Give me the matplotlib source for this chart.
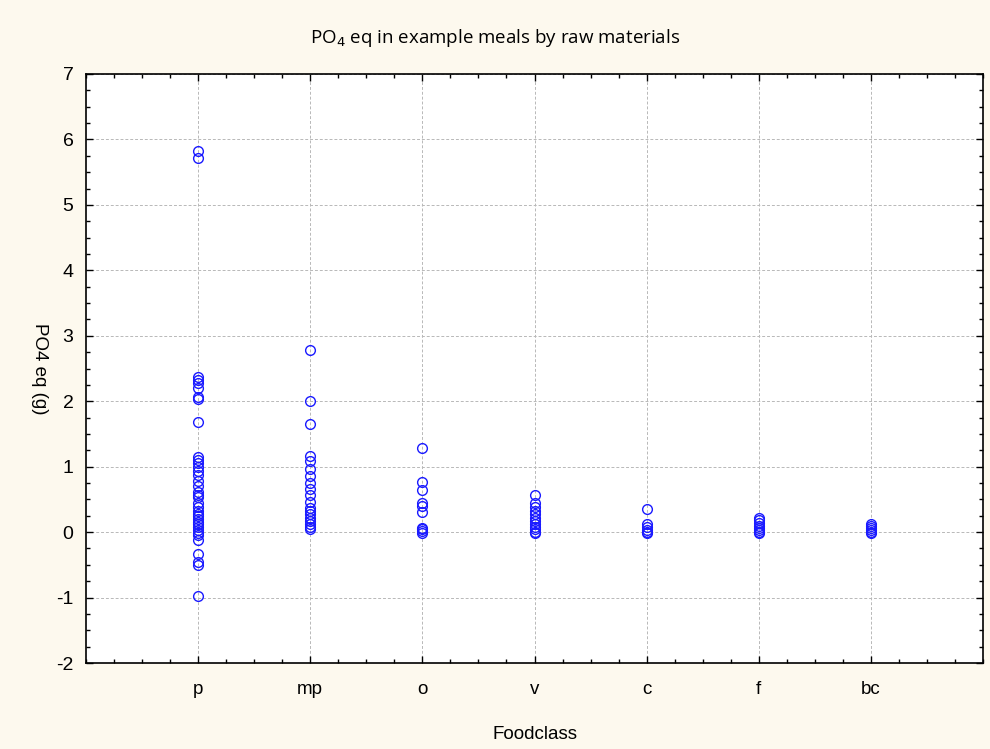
import matplotlib
matplotlib.use('Agg')
import matplotlib.pyplot as plt
from matplotlib.ticker import AutoMinorLocator

categories = ['p', 'mp', 'o', 'v', 'c', 'f', 'bc']
y_ticks = [-2, -1, 0, 1, 2, 3, 4, 5, 6, 7]

p_vals = [5.83, 5.72, 2.37, 2.33, 2.28, 2.20, 2.06, 2.04, 1.68, 1.15, 1.10, 1.05,
          1.00, 0.93, 0.88, 0.78, 0.70, 0.62, 0.57, 0.53, 0.45, 0.38, 0.33, 0.28,
          0.25, 0.20, 0.15, 0.12, 0.08, 0.03, -0.02, -0.05, -0.12, -0.33, -0.45,
          -0.50, -0.98]
mp_vals = [2.78, 2.01, 1.65, 1.16, 1.08, 0.97, 0.86, 0.75, 0.66, 0.56, 0.46,
           0.37, 0.32, 0.27, 0.22, 0.17, 0.12, 0.08, 0.04]
o_vals = [1.28, 0.77, 0.65, 0.45, 0.40, 0.30, 0.07, 0.05, 0.02, -0.01]
v_vals = [0.57, 0.45, 0.38, 0.33, 0.28, 0.22, 0.17, 0.12, 0.08, 0.04, 0.00, -0.01]
c_vals = [0.35, 0.12, 0.08, 0.03, 0.00, -0.01]
f_vals = [0.22, 0.18, 0.14, 0.10, 0.07, 0.03, 0.00, -0.01]
bc_vals = [0.13, 0.10, 0.07, 0.03, 0.00, -0.01]

all_vals = [p_vals, mp_vals, o_vals, v_vals, c_vals, f_vals, bc_vals]

tick_font = 'Liberation Sans'
title_font = 'Open Sans'

fig = plt.figure(figsize=(9.9, 7.49), dpi=100, facecolor='#fdf9ee')
ax = fig.add_axes([86 / 990, 86 / 749, 897 / 990, 589 / 749])
ax.set_facecolor('white')

for i, vals in enumerate(all_vals):
    ax.plot([i + 1] * len(vals), vals, linestyle='none', marker='o',
            markersize=7, markerfacecolor='none', markeredgecolor='#1a1aff',
            markeredgewidth=1.0, zorder=3)

ax.set_xlim(0, 8)
ax.set_ylim(-2, 7)
ax.set_xticks(range(1, 8))
ax.set_xticklabels(categories, fontsize=13.5, family=tick_font)
ax.set_yticks(y_ticks)
ax.set_yticklabels([str(v) for v in y_ticks], fontsize=14, family=tick_font)
ax.xaxis.set_minor_locator(AutoMinorLocator(4))
ax.yaxis.set_minor_locator(AutoMinorLocator(4))

ax.tick_params(which='both', direction='in', top=True, right=True, width=1)
ax.tick_params(which='major', length=5)
ax.tick_params(which='minor', length=3)
ax.tick_params(axis='x', which='major', pad=13)
ax.tick_params(axis='y', which='major', pad=9)

ax.grid(True, which='major', linestyle=(0, (3, 2)), color='#b8b8b8', linewidth=0.7)
ax.set_axisbelow(True)
for s in ax.spines.values():
    s.set_linewidth(1.2)

ax.set_xlabel('Foodclass', fontsize=13.5, family=tick_font, labelpad=20)
ax.set_ylabel('PO4 eq (g)', fontsize=13.5, family=tick_font, rotation=270,
              va='center')
ax.yaxis.set_label_coords(-0.052, 0.5)
fig.text(0.5, 0.949, 'PO$_4$ eq in example meals by raw materials', ha='center',
         va='center', fontsize=13.5, family=title_font)

plt.savefig('out.png', dpi=100, facecolor=fig.get_facecolor())
